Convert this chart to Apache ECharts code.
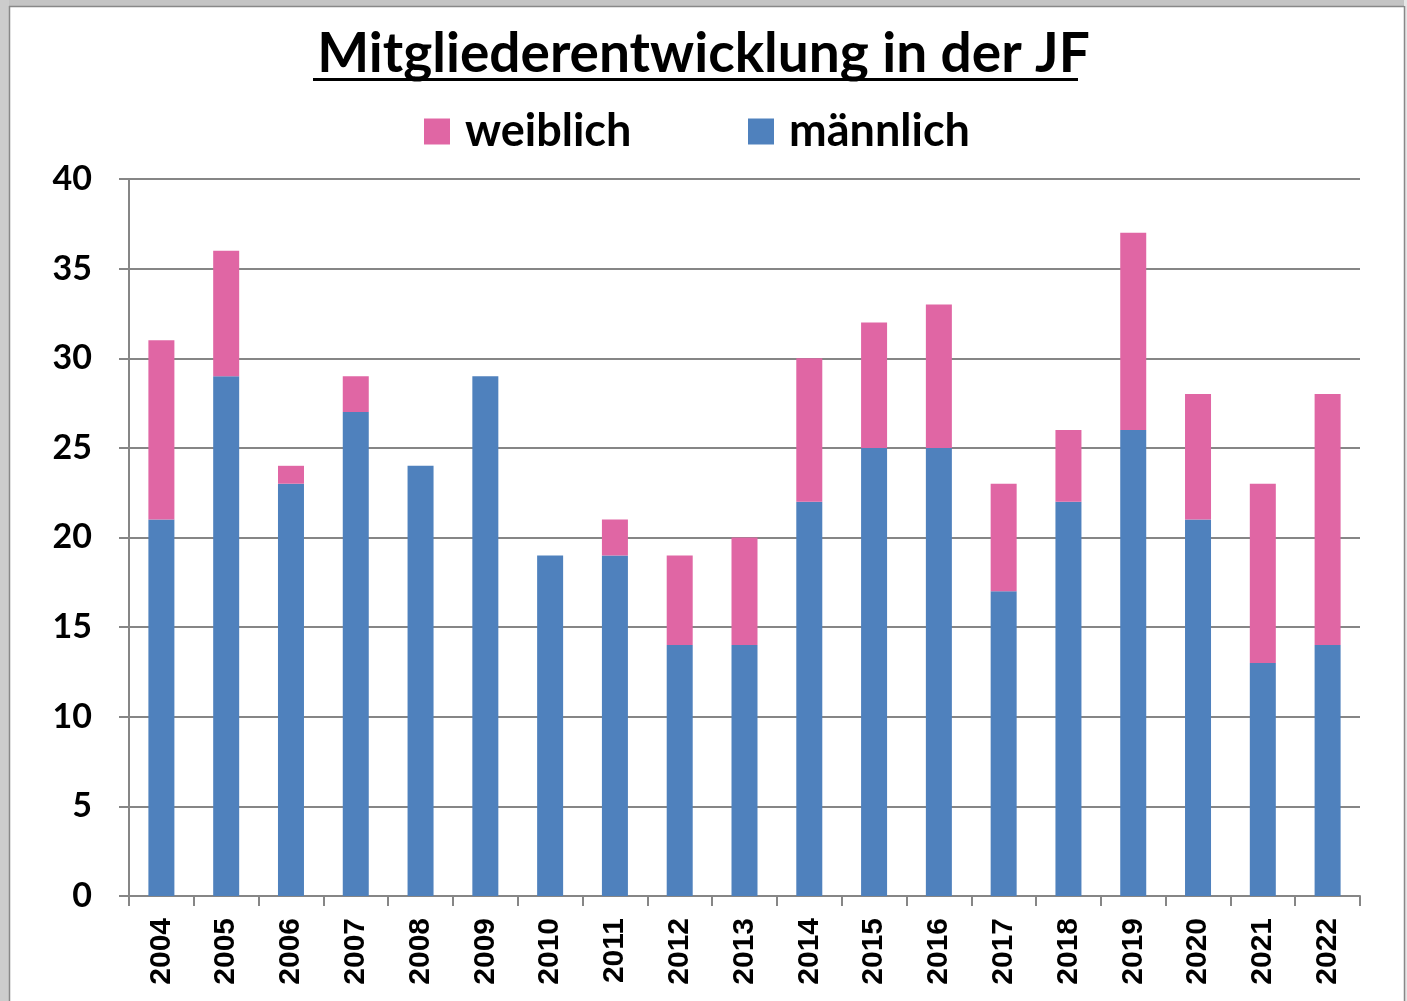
<!DOCTYPE html>
<html>
<head>
<meta charset="utf-8">
<script src="https://cdn.jsdelivr.net/npm/echarts@6/dist/echarts.min.js"></script>
<style>
html,body{margin:0;padding:0;background:#fff;}
#chart{width:1407px;height:1001px;}
</style>
</head>
<body>
<div id="chart"></div>
<script>
const years = ['2004','2005','2006','2007','2008','2009','2010','2011','2012','2013','2014','2015','2016','2017','2018','2019','2020','2021','2022'];
const maennlich = [21,29,23,27,24,29,19,19,14,14,22,25,25,17,22,26,21,13,14];
const weiblich  = [10,7,1,2,0,0,0,2,5,6,8,7,8,6,4,11,7,10,14];
const yTicks = [0,5,10,15,20,25,30,35,40];

const chart = echarts.init(document.getElementById('chart'));
const calibri = 'Lato, "Open Sans", sans-serif';
chart.setOption({
  animation: false,
  backgroundColor: '#ffffff',
  graphic: [
    {type:'rect', shape:{x:0,y:0,width:1407,height:6}, style:{fill:'#c4c4c4'}, z:-10},
    {type:'rect', shape:{x:0,y:0,width:9,height:1001}, style:{fill:'#cccccc'}, z:-10},
    {type:'rect', shape:{x:1404,y:0,width:3,height:1001}, style:{fill:'#e6e6e6'}, z:-10},
    {type:'line', shape:{x1:9,y1:6.5,x2:1404,y2:6.5}, style:{stroke:'#888888',lineWidth:1.5}, z:-9},
    {type:'line', shape:{x1:9.5,y1:6,x2:9.5,y2:1001}, style:{stroke:'#888888',lineWidth:1.5}, z:-9},
    {type:'line', shape:{x1:1404.5,y1:6,x2:1404.5,y2:1001}, style:{stroke:'#888888',lineWidth:1.5}, z:-9},
    {type:'line', shape:{x1:313,y1:79.5,x2:1078,y2:79.5}, style:{stroke:'#000000',lineWidth:3}, z:10}
  ],
  title: {
    text: 'Mitgliederentwicklung in der JF',
    left: 'center',
    top: 22,
    textStyle: {fontFamily: calibri, fontWeight: 'bold', fontSize: 55, color: '#000'}
  },
  legend: [
    {
      data: ['weiblich'], left: 419, top: 104, itemWidth: 26, itemHeight: 26, icon: 'rect',
      textStyle: {fontFamily: calibri, fontWeight: 'bold', fontSize: 45, color: '#000', padding: [0,0,0,10]}
    },
    {
      data: ['männlich'], left: 743, top: 104, itemWidth: 26, itemHeight: 26, icon: 'rect',
      textStyle: {fontFamily: calibri, fontWeight: 'bold', fontSize: 45, color: '#000', padding: [0,0,0,10]}
    }
  ],
  grid: {left: 129, right: 47, top: 179, bottom: 105, containLabel: false},
  xAxis: {
    type: 'category',
    data: years,
    axisLine: {lineStyle: {color: '#868686', width: 2}},
    axisTick: {show: true, length: 10, lineStyle: {color: '#868686', width: 2}},
    axisLabel: {rotate: 90, margin: 22, fontFamily: '"Liberation Sans", Arial, sans-serif', fontWeight: 'bold', fontSize: 30, color: '#000'}
  },
  yAxis: {
    type: 'value',
    min: 0, max: 40, interval: 5,
    axisLine: {show: true, lineStyle: {color: '#868686', width: 2}},
    axisTick: {show: true, length: 10, lineStyle: {color: '#868686', width: 2}},
    splitLine: {lineStyle: {color: '#868686', width: 2}},
    axisLabel: {margin: 37, fontFamily: calibri, fontWeight: 'bold', fontSize: 34, color: '#000',
      formatter: v => yTicks.includes(v) ? String(v) : ''}
  },
  series: [
    {name: 'männlich', type: 'bar', stack: 'a', data: maennlich, barWidth: 26, itemStyle: {color: '#4F81BD'}},
    {name: 'weiblich', type: 'bar', stack: 'a', data: weiblich, barWidth: 26, itemStyle: {color: '#E066A4'}}
  ]
});
</script>
</body>
</html>
